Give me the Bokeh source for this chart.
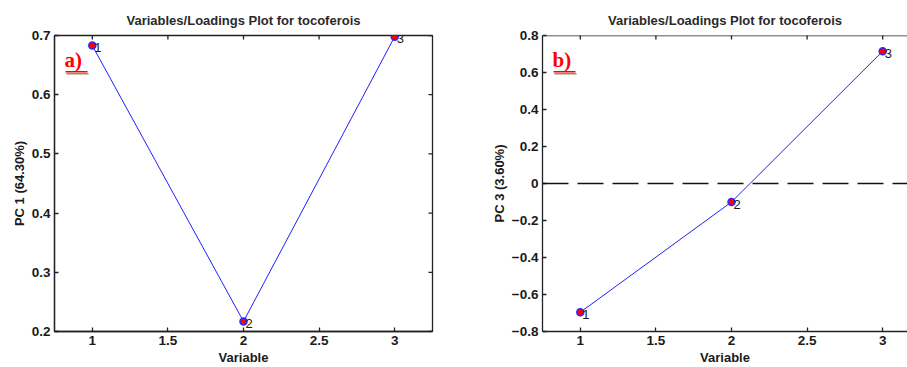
import math
from bokeh.plotting import figure
from bokeh.layouts import row
from bokeh.models import (Range1d, LinearAxis, FixedTicker, Span, Label,
                          BoxAnnotation, ColumnDataSource)
from bokeh.embed import file_html
from bokeh.resources import INLINE

# Loadings of the three tocopherol variables
variables = [1, 2, 3]
variable_names = ["1", "2", "3"]
pc1_loadings = [0.683, 0.217, 0.698]
pc3_loadings = [-0.696, -0.100, 0.715]

x_ticks = [1, 1.5, 2, 2.5, 3]
pc1_ticks = [0.2, 0.3, 0.4, 0.5, 0.6, 0.7]
pc3_ticks = [-0.8, -0.6, -0.4, -0.2, 0, 0.2, 0.4, 0.6, 0.8]

TITLE = "Variables/Loadings Plot for tocoferois"
FONT = "Liberation Sans"
AXIS_COLOR = "#222222"
TEXT_COLOR = "#1a1a1a"


def style_axis(ax, ticks):
    ax.ticker = FixedTicker(ticks=ticks)
    ax.major_tick_in = 4
    ax.major_tick_out = 0
    ax.minor_tick_line_color = None
    ax.axis_line_color = AXIS_COLOR
    ax.axis_line_width = 1.3
    ax.major_tick_line_color = AXIS_COLOR
    ax.major_tick_line_width = 1.3
    ax.major_label_text_font = FONT
    ax.major_label_text_font_style = "bold"
    ax.major_label_text_color = TEXT_COLOR
    ax.major_label_text_font_size = "13.5px"
    ax.major_label_standoff = 4
    ax.axis_label_text_font = FONT
    ax.axis_label_text_font_style = "bold"
    ax.axis_label_text_font_size = "13px"
    ax.axis_label_text_color = TEXT_COLOR
    ax.axis_label_standoff = 2


def make_panel(values, y_range, y_ticks, x_end, frame_w, border_l, border_r,
               y_label, tag, full_box, zero_line):
    p = figure(frame_width=frame_w, frame_height=296,
               x_range=Range1d(0.75, x_end), y_range=Range1d(*y_range),
               x_axis_location=None, y_axis_location=None,
               output_backend="svg", toolbar_location=None,
               min_border_left=border_l, min_border_right=border_r,
               min_border_top=35, min_border_bottom=36)
    p.grid.visible = False
    p.background_fill_color = "white"
    p.border_fill_color = "white"
    p.outline_line_color = AXIS_COLOR if full_box else None
    p.outline_line_width = 1.3

    p.title.text = TITLE
    p.title.align = "center"
    p.title.vertical_align = "top"
    p.title.text_font = FONT
    p.title.text_font_size = "13px"
    p.title.text_font_style = "bold"
    p.title.text_color = "#2a2a2a"
    p.title.standoff = 12

    bottom = LinearAxis(axis_label="Variable")
    style_axis(bottom, x_ticks)
    p.add_layout(bottom, "below")
    left = LinearAxis(axis_label=y_label)
    style_axis(left, y_ticks)
    p.add_layout(left, "left")

    # box edge along the top when the frame outline is not drawn
    if not full_box:
        p.add_layout(Span(location=y_range[1], dimension="width",
                          line_color=AXIS_COLOR, line_width=1.3))

    # inward tick marks on the top edge (and right edge for the full box)
    p.scatter(x=x_ticks, y=[y_range[1]] * len(x_ticks), marker="dash",
              angle=math.pi / 2, size=8, line_color=AXIS_COLOR, line_width=1.3)
    if full_box:
        p.scatter(x=[x_end] * len(y_ticks), y=y_ticks, marker="dash",
                  size=8, line_color=AXIS_COLOR, line_width=1.3)

    if zero_line:
        p.add_layout(Span(location=0, dimension="width", line_color="#111111",
                          line_width=1.3, line_dash="26 9"))

    src = ColumnDataSource(dict(x=variables, y=values, name=variable_names))
    p.line("x", "y", source=src, line_color="#2020ff", line_width=1)
    p.scatter("x", "y", source=src, size=7, fill_color="red",
              line_color="#2a2aff", line_width=1.5)
    p.text("x", "y", text="name", source=src, x_offset=2, y_offset=2,
           text_font_size="13px", text_baseline="middle", text_align="left",
           text_color=TEXT_COLOR, text_font={"value": FONT})

    # panel tag, e.g. "a)", underlined
    p.add_layout(Label(x=10, y=296 - 36, x_units="screen", y_units="screen",
                       text=tag, text_font="Liberation Serif",
                       text_font_style="bold", text_font_size="21px",
                       text_color="red", text_baseline="bottom"))
    p.add_layout(BoxAnnotation(left=11, right=33, bottom=296 - 37, top=296 - 35.5,
                               left_units="screen", right_units="screen",
                               bottom_units="screen", top_units="screen",
                               fill_color="red", fill_alpha=1, line_color=None))
    p.add_layout(BoxAnnotation(left=12, right=34, bottom=296 - 39, top=296 - 37.5,
                               left_units="screen", right_units="screen",
                               bottom_units="screen", top_units="screen",
                               fill_color="#6b7a2a", fill_alpha=0.8, line_color=None))
    # short black stroke beside the vertical axis (a thin filled label box)
    p.add_layout(Label(x=-6.5, y=296 - 8, x_units="screen", y_units="screen",
                       text="|", text_font_size="2px", text_color="#111111",
                       text_align="center", text_baseline="top",
                       background_fill_color="#111111", padding=(1, 24)))
    return p


p1 = make_panel(pc1_loadings, (0.2, 0.7), pc1_ticks, 3.25, 378, 54, 18,
                "PC 1 (64.30%)", "a)", True, False)
p2 = make_panel(pc3_loadings, (-0.8, 0.8), pc3_ticks, 3.164, 365, 92, 0,
                "PC 3 (3.60%)", "b)", False, True)

page = row(p1, p2, spacing=0)
open("out.html", "w").write(file_html(page, INLINE))
